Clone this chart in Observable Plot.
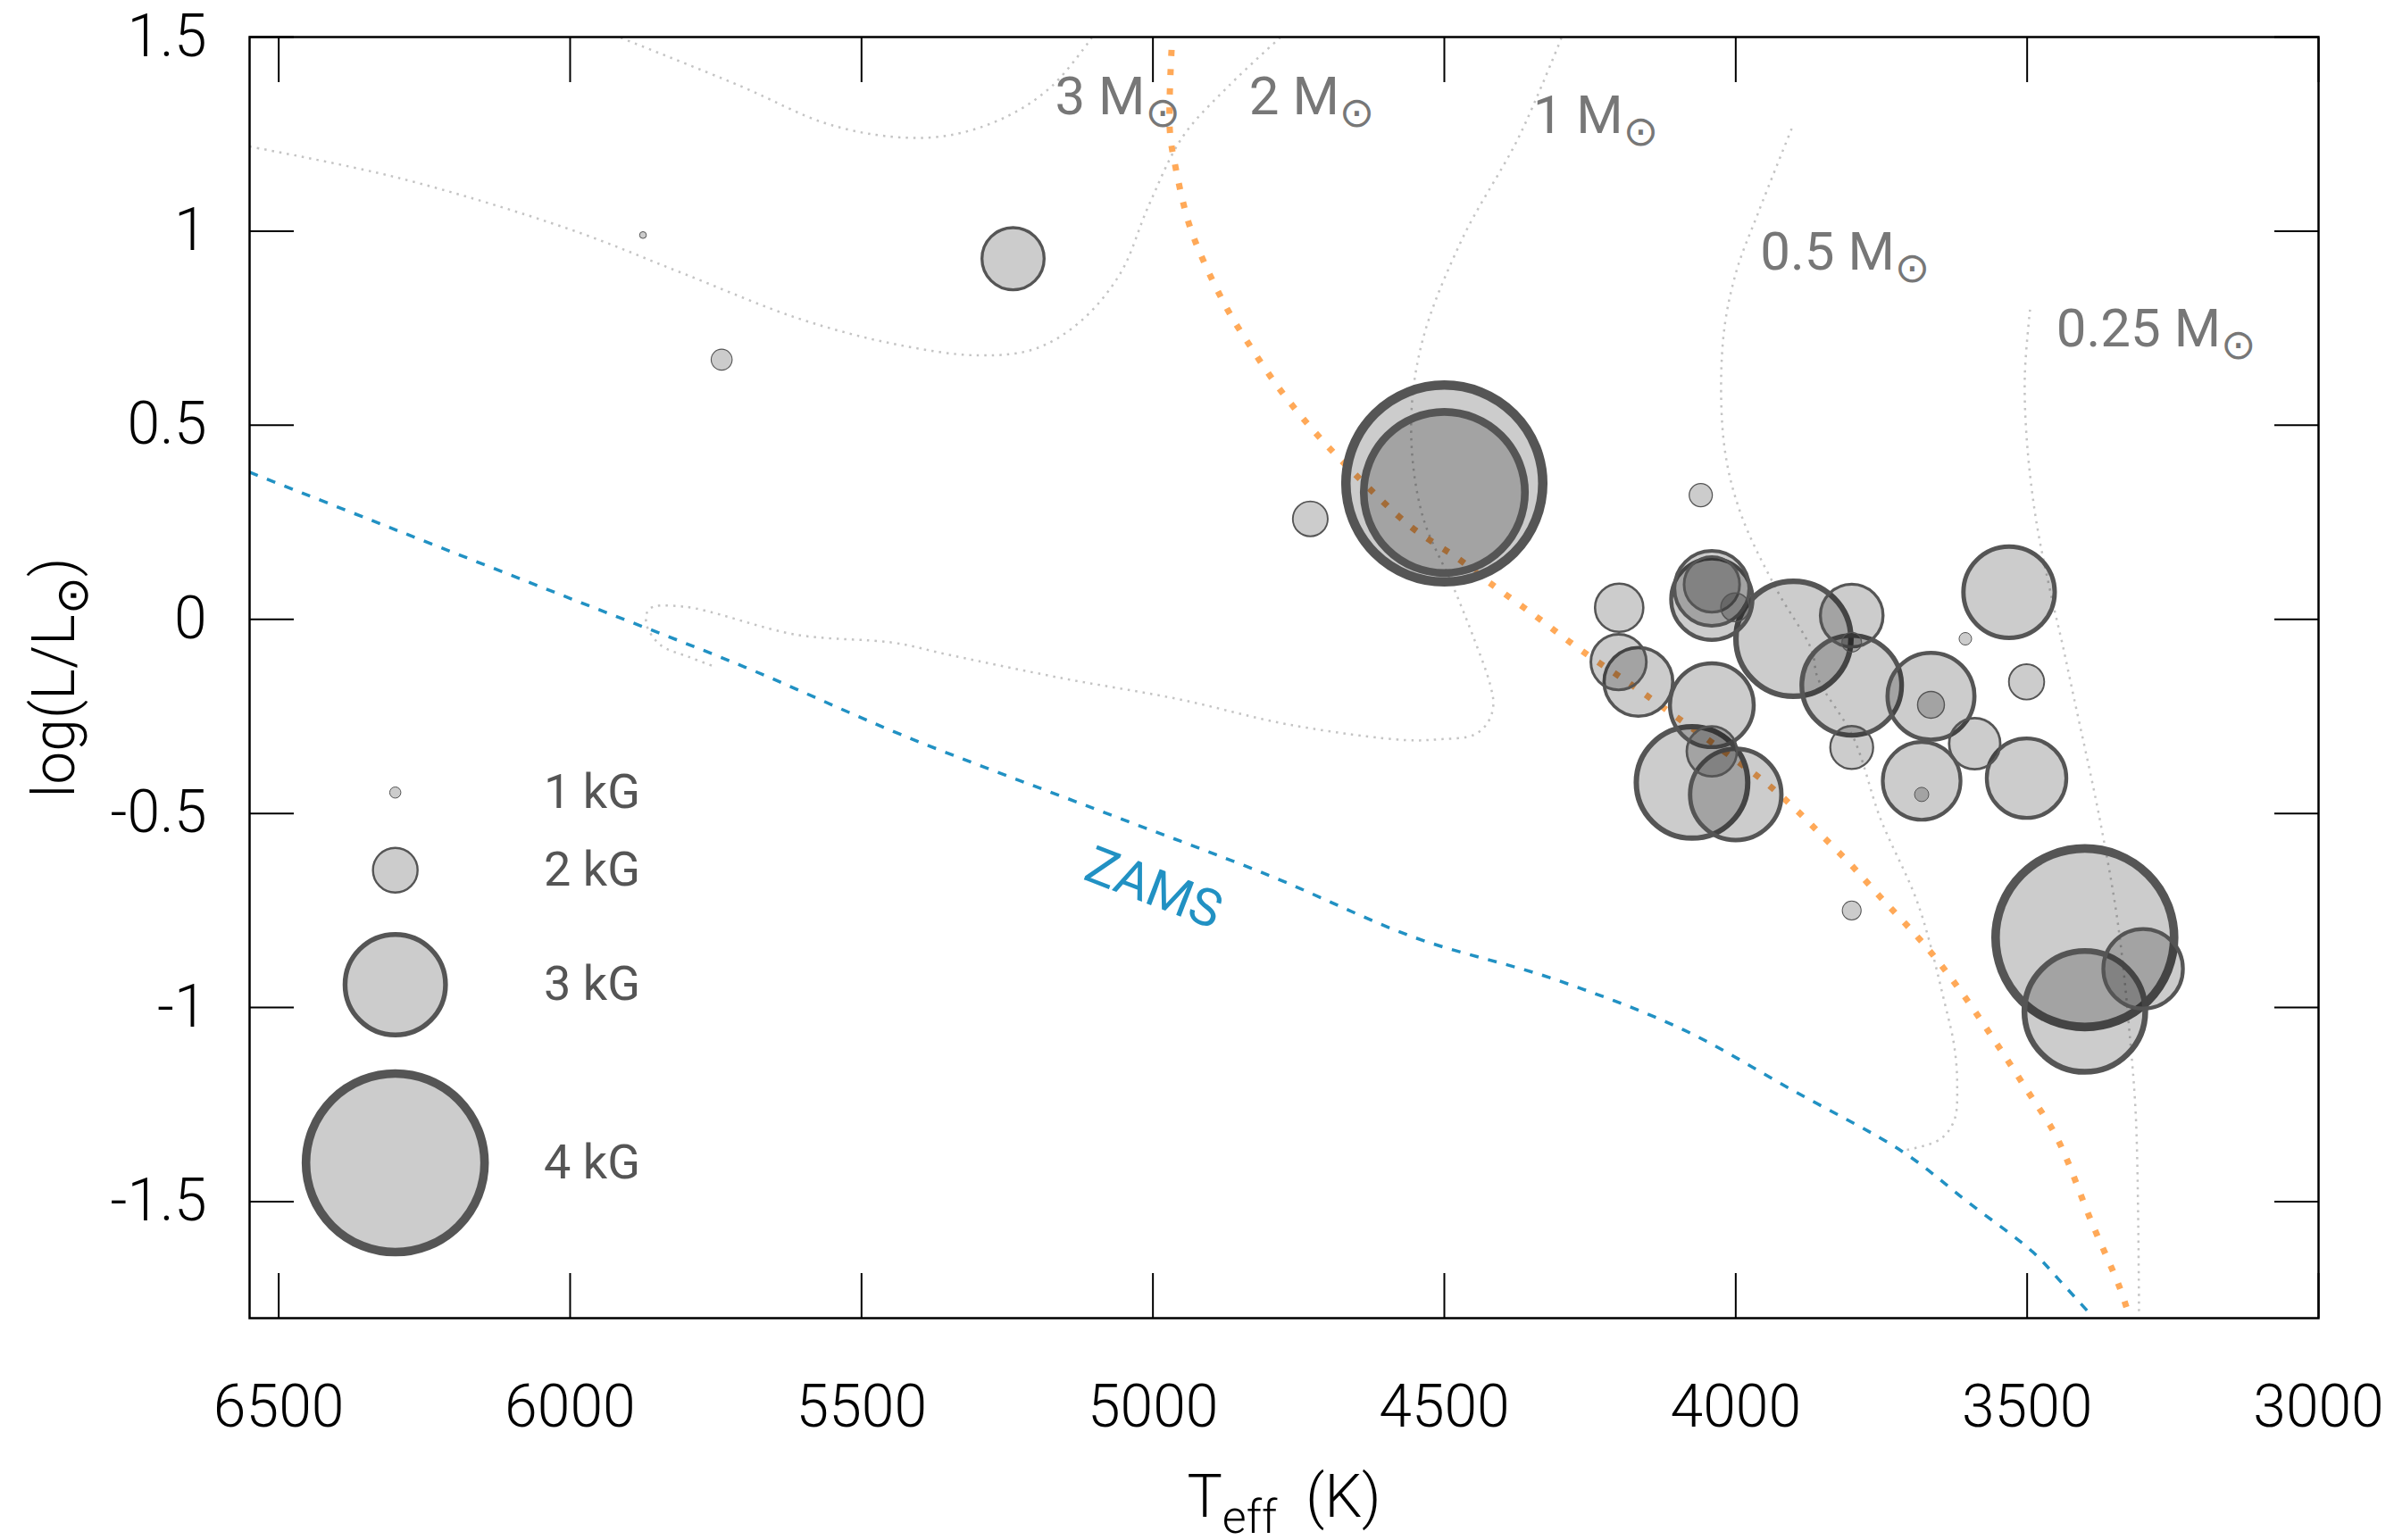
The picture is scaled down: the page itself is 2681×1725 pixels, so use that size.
<!DOCTYPE html>
<html>
<head>
<meta charset="utf-8">
<script src="https://cdn.jsdelivr.net/npm/d3@7"></script>
<script src="https://cdn.jsdelivr.net/npm/@observablehq/plot@0.6"></script>
<style>
  html, body { margin: 0; padding: 0; background: #fff; }
</style>
</head>
<body>
<div id="chart"></div>
<script>
// ---------------- data ----------------
const starTeff = [5875, 5740, 5240, 4730, 4500, 4500, 4060, 4200, 4041, 4041, 4041, 4001,
  3901, 3801, 3801, 3801, 3801, 4201, 4167, 4041, 4041, 4075, 4000, 3801,
  3531, 3606, 3501, 3665, 3665, 3590, 3681, 3681, 3501, 3401, 3401, 3301];
const starLogL = [0.990, 0.669, 0.929, 0.259, 0.350, 0.327, 0.320, 0.030, 0.080, 0.052, 0.090, 0.031,
  -0.050, 0.010, -0.059, -0.170, -0.330, -0.110, -0.161, -0.221, -0.340, -0.420, -0.451, -0.750,
  0.070, -0.050, -0.161, -0.198, -0.220, -0.320, -0.416, -0.451, -0.409, -0.820, -1.010, -0.900];
const starB = [0.78, 1.37, 2.36, 1.77, 4.2, 3.8, 1.44, 2.08, 2.59, 2.70, 2.23, 1.60,
  3.21, 2.37, 1.33, 2.99, 1.96, 2.23, 2.48, 2.74, 2.12, 3.16, 2.86, 1.30,
  2.86, 1.06, 1.78, 2.79, 1.55, 2.14, 2.64, 1.13, 2.67, 4.0, 3.29, 2.67];

const legendB = [1, 2, 3, 4];
const legendText = ["1 kG", "2 kG", "3 kG", "4 kG"];
const legendLogL = [-0.446, -0.646, -0.941, -1.400];
const legendTeff = 6300;
const legendTextTeff = 6045;

const zamsTeff = [6550, 6300, 6000, 5700, 5427, 5100, 4800, 4550, 4313, 4090, 3900, 3712, 3600, 3490, 3440, 3389];
const zamsLogL = [0.379, 0.231, 0.054, -0.123, -0.300, -0.488, -0.660, -0.820, -0.926, -1.057, -1.215, -1.373, -1.503, -1.630, -1.710, -1.794];

const orangeTeff = [4968, 4971, 4961, 4939, 4914, 4872, 4838, 4782, 4719, 4652, 4556, 4475, 4423, 4343, 4265, 4184, 4104, 4023, 3945, 3896, 3850, 3803, 3760, 3670, 3611, 3555, 3501, 3449, 3389, 3341, 3325];
const orangeLogL = [1.467, 1.260, 1.163, 1.023, 0.926, 0.798, 0.715, 0.592, 0.477, 0.372, 0.237, 0.155, 0.095, 0.008, -0.080, -0.163, -0.249, -0.337, -0.425, -0.491, -0.560, -0.631, -0.702, -0.849, -0.964, -1.087, -1.211, -1.335, -1.554, -1.722, -1.794];

const track3Teff = [5913, 5708, 5562, 5446, 5349, 5251, 5173, 5105];
const track3LogL = [1.498, 1.374, 1.278, 1.243, 1.247, 1.295, 1.374, 1.498];
const track2Teff = [6550, 6294, 6001, 5806, 5610, 5446, 5300, 5202, 5124, 5056, 5007, 4949, 4870, 4782];
const track2LogL = [1.218, 1.137, 1.005, 0.891, 0.776, 0.710, 0.680, 0.697, 0.768, 0.891, 1.067, 1.243, 1.374, 1.498];
const track1Teff = [4299, 4372, 4470, 4538, 4557, 4538, 4485, 4450, 4421, 4416, 4426, 4450, 4509, 4567, 4763, 4958, 5154, 5348, 5446, 5610, 5806, 5864, 5869, 5845, 5796, 5757];
const track1LogL = [1.498, 1.243, 0.978, 0.715, 0.496, 0.270, 0.085, -0.046, -0.170, -0.223, -0.267, -0.298, -0.309, -0.311, -0.272, -0.205, -0.152, -0.092, -0.060, -0.040, 0.033, 0.027, -0.013, -0.066, -0.097, -0.119];
const track05Teff = [3904, 3961, 4000, 4022, 4020, 3992, 3930, 3870, 3859, 3798, 3752, 3687, 3641, 3625, 3620, 3625, 3650, 3712];
const track05LogL = [1.264, 1.049, 0.891, 0.715, 0.451, 0.275, 0.077, -0.078, -0.152, -0.305, -0.512, -0.734, -0.991, -1.100, -1.200, -1.290, -1.340, -1.368];
const track025Teff = [3495, 3504, 3500, 3484, 3457, 3440, 3420, 3376, 3344, 3323, 3313, 3308];
const track025LogL = [0.798, 0.627, 0.451, 0.250, 0.050, -0.060, -0.200, -0.510, -0.786, -1.087, -1.297, -1.794];

const massLabels = ["3 M\u2299", "2 M\u2299", "1 M\u2299", "0.5 M\u2299", "0.25 M\u2299"];
const massLabelTeff = [5168, 4835, 4348, 3958, 3450];
const massLabelLogL = [1.301, 1.301, 1.252, 0.900, 0.703];

const zamsLabel = ["ZAMS"];
const zamsLabelTeff = [4999];
const zamsLabelLogL = [-0.693];

const xTicks = [6500, 6000, 5500, 5000, 4500, 4000, 3500, 3000];
const yTicks = [-1.5, -1, -0.5, 0, 0.5, 1, 1.5];

// ---------------- build tables ----------------
const stars = starTeff.map((t, i) => ({T: t, L: starLogL[i], B: starB[i]}));
const legend = legendB.map((b, i) => ({T: legendTeff, L: legendLogL[i], B: b}));
const zams = zamsTeff.map((t, i) => ({T: t, L: zamsLogL[i]}));
const orange = orangeTeff.map((t, i) => ({T: t, L: orangeLogL[i]}));
const tracks = [
  ["3", track3Teff, track3LogL], ["2", track2Teff, track2LogL], ["1", track1Teff, track1LogL],
  ["0.5", track05Teff, track05LogL], ["0.25", track025Teff, track025LogL]
].flatMap(([k, ts, ls]) => ts.map((t, i) => ({track: k, T: t, L: ls[i]})));

const sw = d => Math.max(1, 0.6 * d.B * d.B);
const circleStyle = {x: "T", y: "L", r: "B", fill: "black", fillOpacity: 0.2, stroke: "#555", strokeWidth: sw};

const plot = Plot.plot({
  width: 2681, height: 1725,
  marginLeft: 279, marginRight: 85, marginTop: 41, marginBottom: 249,
  x: {domain: [6550, 3000]},
  y: {domain: [-1.8, 1.5]},
  r: {type: "pow", exponent: 2, domain: [0, 4], range: [0, 100]},
  style: {fontFamily: "Roboto, 'Noto Sans', sans-serif", fontSize: "66px", color: "black", background: "white", overflow: "visible"},
  marks: [
    Plot.line(tracks, {x: "T", y: "L", z: "track", stroke: "#c4c4c4", strokeWidth: 2.5, strokeDasharray: "2.5,6", strokeLinecap: "butt", curve: "catmull-rom"}),
    Plot.line(zams, {x: "T", y: "L", stroke: "#2191c3", strokeWidth: 3.5, strokeDasharray: "10,11", strokeLinecap: "butt", curve: "catmull-rom"}),
    Plot.line(orange, {x: "T", y: "L", stroke: "#ffa958", strokeWidth: 7, strokeDasharray: "7,14.5", strokeLinecap: "butt", curve: "catmull-rom"}),
    Plot.dot(stars, circleStyle),
    Plot.dot(legend, circleStyle),
    Plot.text(legendText, {x: () => legendTextTeff, y: (d, i) => legendLogL[i], textAnchor: "start", lineAnchor: "middle", fill: "#555", fontSize: 54}),
    Plot.text(massLabels, {x: massLabelTeff, y: massLabelLogL, textAnchor: "start", lineAnchor: "bottom", fill: "#777", fontSize: 60}),
    Plot.text(zamsLabel, {x: zamsLabelTeff, y: zamsLabelLogL, rotate: 21, textAnchor: "middle", lineAnchor: "middle", fill: "#2191c3", fontSize: 58}),
    // inward ticks on all four sides
    Plot.axisX({anchor: "bottom", ticks: xTicks, tickSize: -50, fill: "none", stroke: "black", strokeWidth: 2, label: null}),
    Plot.axisX({anchor: "top", ticks: xTicks, tickSize: -50, fill: "none", stroke: "black", strokeWidth: 2, label: null}),
    Plot.axisY({anchor: "left", ticks: yTicks, tickSize: -50, fill: "none", stroke: "black", strokeWidth: 2, label: null}),
    Plot.axisY({anchor: "right", ticks: yTicks, tickSize: -50, fill: "none", stroke: "black", strokeWidth: 2, label: null}),
    // tick labels
    Plot.axisX({anchor: "bottom", ticks: xTicks, tickSize: 0, tickPadding: 75, stroke: "none", fill: "black", fontSize: 66, fontWeight: 300, label: null, tickFormat: d => String(d)}),
    Plot.axisY({anchor: "left", ticks: yTicks, tickSize: 0, tickPadding: 48, stroke: "none", fill: "black", fontSize: 66, fontWeight: 300, label: null, tickFormat: d => String(d)}),
    // axis titles
    Plot.text(["Teff (K)"], {frameAnchor: "bottom", dy: 222, lineAnchor: "bottom", textAnchor: "middle", fill: "black", fontSize: 66, fontWeight: 300}),
    Plot.text(["log(L/L\u2299)"], {frameAnchor: "left", dx: -197, rotate: -90, lineAnchor: "bottom", textAnchor: "middle", fill: "black", fontSize: 66, fontWeight: 300}),
    Plot.frame({stroke: "black", strokeWidth: 2.5})
  ]
});

// ---------- rich text (subscripts, solar symbol) ----------
const NS = "http://www.w3.org/2000/svg";
function rebuild(el, parts) {
  while (el.firstChild) el.removeChild(el.firstChild);
  for (const p of parts) {
    const ts = document.createElementNS(NS, "tspan");
    ts.textContent = p.t;
    if (p.dy) ts.setAttribute("dy", p.dy);
    if (p.size) ts.setAttribute("font-size", p.size);
    if (p.family) ts.setAttribute("font-family", p.family);
    if (p.weight) ts.setAttribute("font-weight", p.weight);
    el.appendChild(ts);
  }
}
const SUN = "\u2299";
plot.querySelectorAll("text").forEach(el => {
  const s = el.textContent;
  if (s === "Teff (K)") {
    rebuild(el, [{t: "T"}, {t: "eff", size: 52, dy: 18}, {t: "\u00a0\u00a0(K)", dy: -18}]);
  } else if (s === "log(L/L" + SUN + ")") {
    rebuild(el, [{t: "log(L/L"}, {t: SUN, size: 50, dy: 15, family: "DejaVu Sans", weight: 300}, {t: ")", dy: -15}]);
  } else if (s.endsWith(" M" + SUN)) {
    rebuild(el, [{t: s.slice(0, -1)}, {t: SUN, size: 47, dy: 14, family: "DejaVu Sans"}]);
  }
});

document.getElementById("chart").appendChild(plot);
</script>
</body>
</html>
